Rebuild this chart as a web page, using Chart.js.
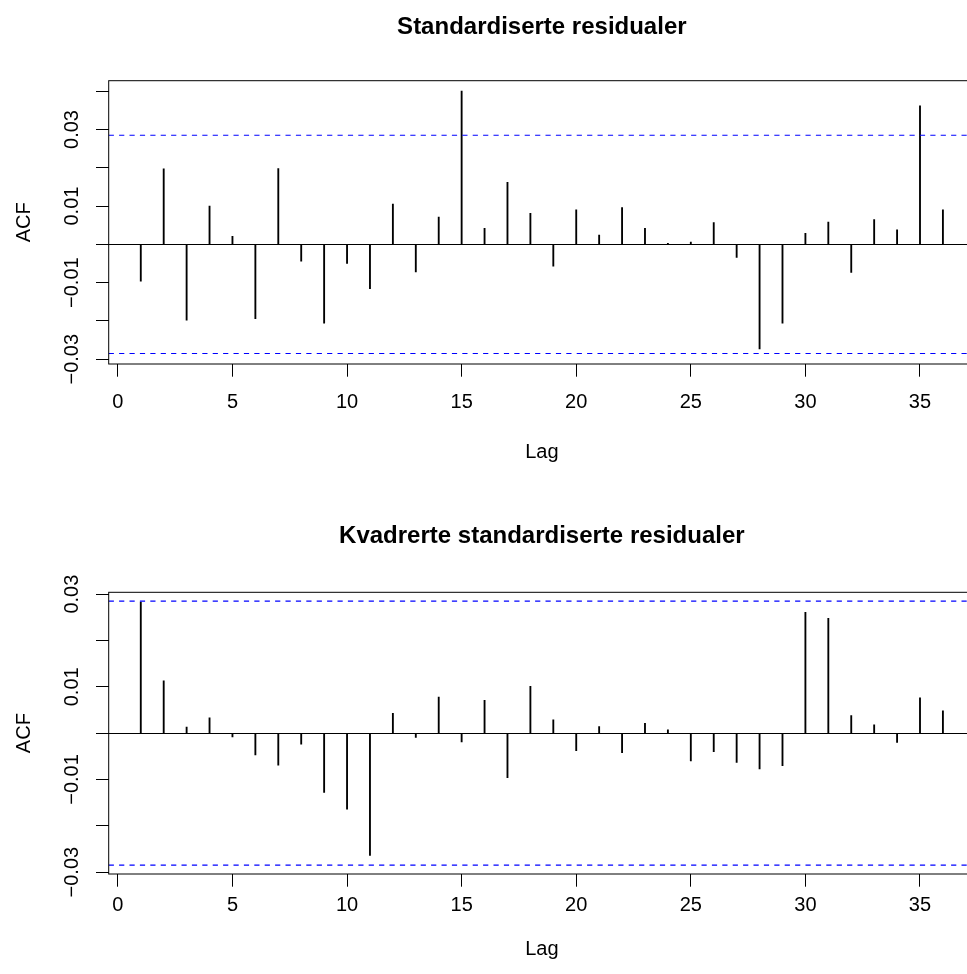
<!DOCTYPE html>
<html><head><meta charset="utf-8">
<script src="https://cdn.jsdelivr.net/npm/chart.js@4.4.1/dist/chart.umd.min.js"></script>
<style>
html,body{margin:0;padding:0;background:#fff;overflow:hidden;width:967px;height:974px;position:relative;}
canvas{display:block;position:absolute;left:0;}
#c1{top:0px}
#c2{top:487px}
</style></head><body>
<canvas id="c1" width="1000" height="487"></canvas>
<canvas id="c2" width="1000" height="487"></canvas>
<script>
// ---- data ----
const lags = [1,2,3,4,5,6,7,8,9,10,11,12,13,14,15,16,17,18,19,20,21,22,23,24,25,26,27,28,29,30,31,32,33,34,35,36];
const acfResid = [-0.0096,0.0197,-0.0198,0.0100,0.0021,-0.0194,0.0198,-0.0044,-0.0206,-0.0050,-0.0116,0.0105,-0.0072,0.0071,0.0400,0.0042,0.0162,0.0081,-0.0057,0.0090,0.0024,0.0096,0.0042,0.0003,0.0006,0.0057,-0.0034,-0.0273,-0.0206,0.0029,0.0058,-0.0073,0.0065,0.0038,0.0362,0.0090];
const acfSquared = [0.0283,0.0113,0.0013,0.0033,-0.0008,-0.0047,-0.0069,-0.0024,-0.0128,-0.0164,-0.0264,0.0043,-0.0009,0.0078,-0.0019,0.0071,-0.0096,0.0101,0.0029,-0.0038,0.0014,-0.0042,0.0021,0.0007,-0.0060,-0.0040,-0.0063,-0.0077,-0.0070,0.0261,0.0248,0.0038,0.0018,-0.0020,0.0076,0.0048];
const confLimit = 0.0285;
const xTicks = [0,5,10,15,20,25,30,35];
const xTickLabels = ['0','5','10','15','20','25','30','35'];
const yTicksTop = [-0.03,-0.02,-0.01,0,0.01,0.02,0.03,0.04];
const yTickLabelsTop = ['\u22120.03','','\u22120.01','','0.01','','0.03',''];
const yTicksBottom = [-0.03,-0.02,-0.01,0,0.01,0.02,0.03];
const yTickLabelsBottom = ['\u22120.03','','\u22120.01','','0.01','','0.03'];
const titles = ['Standardiserte residualer','Kvadrerte standardiserte residualer'];
const xLabel = 'Lag';
const yLabel = 'ACF';
const xRange = [-0.4, 37.4];

// ---- layout / style ----
const FONT = '"Liberation Sans", Arial, Helvetica, sans-serif';
Chart.defaults.font.family = FONT;
Chart.defaults.font.size = 20;
Chart.defaults.color = '#000';

const rPlugin = {
  id: 'rstyle',
  afterDatasetsDraw(chart, args, opts) {
    const {ctx, chartArea: a} = chart;
    ctx.save();
    ctx.strokeStyle = '#000';
    ctx.lineWidth = 1;
    ctx.strokeRect(a.left, a.top, a.right - a.left, a.bottom - a.top);
    ctx.restore();
  },
  afterDraw(chart, args, opts) {
    const {ctx, chartArea: a} = chart;
    ctx.save();
    ctx.font = 'bold 24px ' + FONT;
    ctx.textAlign = 'center';
    ctx.textBaseline = 'middle';
    ctx.fillStyle = '#000';
    ctx.fillText(opts.text, (a.left + a.right) / 2, opts.y);
    ctx.restore();
  }
};

function makeChart(id, values, yTicks, yLabels, title, geom) {
  const canvasH = 487, canvasW = 1000;
  const dashed = (v) => ({
    type: 'line',
    data: [{x: xRange[0], y: v}, {x: xRange[1], y: v}],
    borderColor: '#0000FF',
    backgroundColor: '#0000FF',
    borderWidth: 1.2,
    borderDash: [5.2, 5.2],
    pointRadius: 0,
    fill: false,
    order: 1
  });
  return new Chart(document.getElementById(id), {
    type: 'bar',
    data: {
      datasets: [
        {
          type: 'bar',
          data: lags.map((l, i) => ({x: l, y: values[i]})),
          backgroundColor: '#000',
          borderWidth: 0,
          barThickness: 1.2,
          order: 2
        },
        dashed(confLimit),
        dashed(-confLimit)
      ]
    },
    options: {
      responsive: false,
      animation: false,
      devicePixelRatio: 1,
      layout: {padding: {left: 0, right: canvasW - geom.right, top: geom.top, bottom: 0}},
      plugins: {
        legend: {display: false},
        tooltip: {enabled: false},
        rstyle: {text: title, y: geom.titleY}
      },
      scales: {
        x: {
          type: 'linear',
          position: 'bottom',
          offset: false,
          min: xRange[0],
          max: xRange[1],
          afterBuildTicks: s => { s.ticks = xTicks.map(v => ({value: v})); },
          afterFit: s => { s.height = canvasH - geom.bottom; },
          ticks: {
            autoSkip: false,
            maxRotation: 0,
            minRotation: 0,
            padding: geom.xTickPad,
            callback: (v) => xTickLabels[xTicks.indexOf(v)] ?? ''
          },
          grid: {display: true, offset: false, drawOnChartArea: false, drawTicks: true, tickLength: 12.7, tickColor: '#000', tickWidth: 1},
          border: {display: false},
          title: {display: true, text: xLabel, font: {size: 20}, padding: {top: 0, bottom: geom.xTitlePad}}
        },
        y: {
          type: 'linear',
          position: 'left',
          min: geom.ymin,
          max: geom.ymax,
          afterBuildTicks: s => { s.ticks = yTicks.map(v => ({value: v})); },
          afterFit: s => { s.width = geom.left; },
          ticks: {
            autoSkip: false,
            minRotation: 90,
            maxRotation: 90,
            crossAlign: 'center',
            padding: geom.yTickPad,
            callback: (v) => { const i = yTicks.findIndex(t => Math.abs(t - v) < 1e-9); return i >= 0 ? yLabels[i] : ''; }
          },
          grid: {
            display: true,
            drawOnChartArea: true,
            drawTicks: true,
            tickLength: 12.7,
            tickColor: '#000',
            tickWidth: 1,
            lineWidth: 1,
            color: (c) => (c.tick && Math.abs(c.tick.value) < 1e-12) ? '#000' : 'rgba(0,0,0,0)'
          },
          border: {display: false},
          title: {display: true, text: yLabel, font: {size: 20}, padding: {top: 12, bottom: 0}}
        }
      }
    },
    plugins: [rPlugin]
  });
}

makeChart('c1', acfResid, yTicksTop, yTickLabelsTop, titles[0],
  {left: 108.7, right: 975, top: 80.7, bottom: 364, ymin: -0.03124, ymax: 0.04274, titleY: 27, xTickPad: 13.3, xTitlePad: 23, yTickPad: -1.8});
makeChart('c2', acfSquared, yTicksBottom, yTickLabelsBottom, titles[1],
  {left: 108.7, right: 975, top: 105.3, bottom: 387, ymin: -0.0304, ymax: 0.0304, titleY: 49, xTickPad: 6.5, xTitlePad: 13, yTickPad: -1.8});
</script>
</body></html>
